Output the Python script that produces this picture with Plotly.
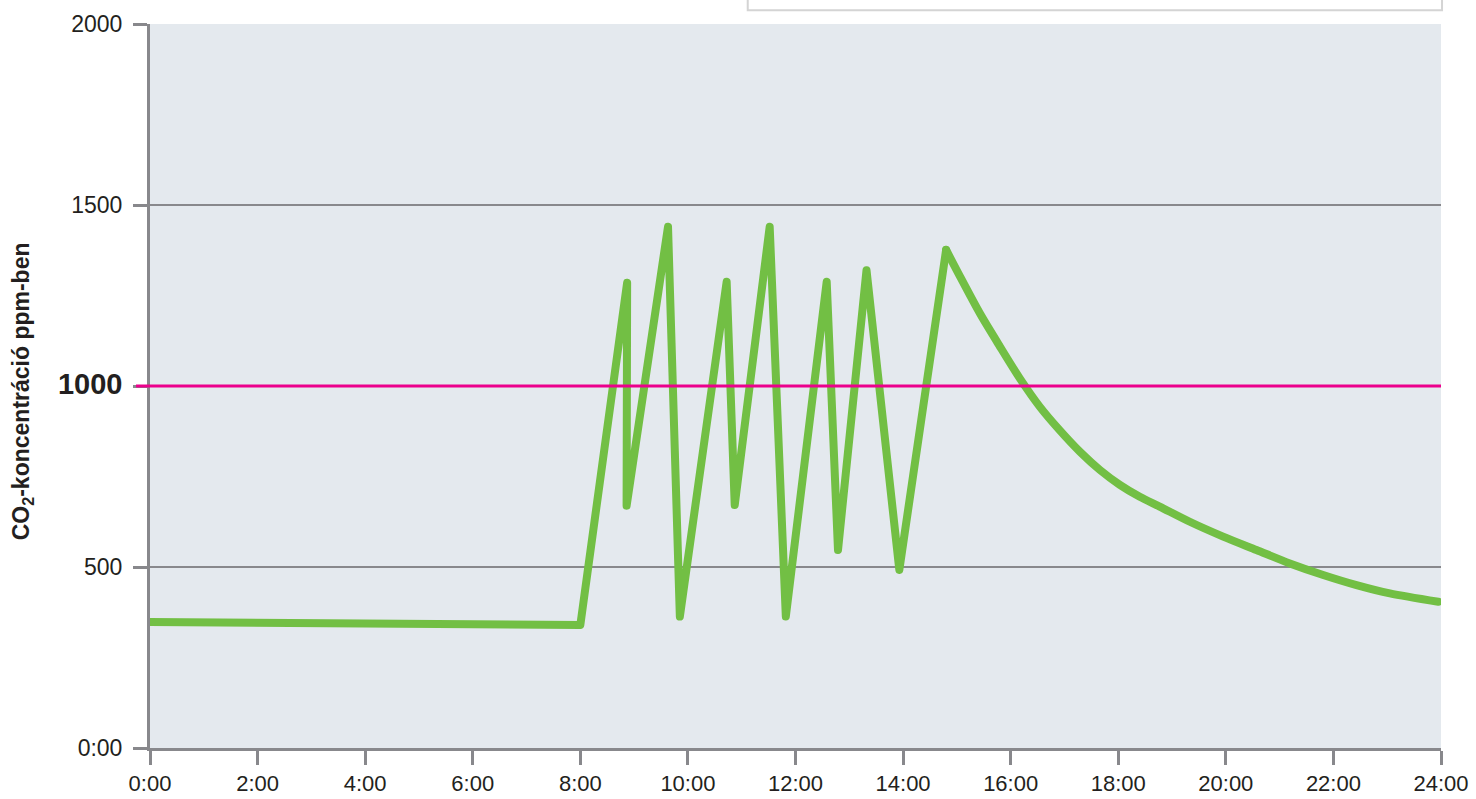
import plotly.graph_objects as go

# Morning to afternoon (ventilation zig-zag): time of day in hours, CO2 in ppm
hours_day = [0, 8.0, 8.87, 8.86, 9.63, 9.85, 10.72, 10.87, 11.52, 11.82, 12.58, 12.79,
             13.32, 13.93, 14.80]
co2_day = [348, 340, 1285, 669, 1440, 363, 1288, 671, 1440, 363, 1288, 547,
           1320, 492, 1376]

# Evening decay after the last peak
hours_decay = [14.80, 15.06, 15.43, 15.80, 16.17, 16.54, 16.91, 17.29, 17.66, 18.03,
               18.40, 18.77, 19.33, 19.95, 20.57, 21.19, 21.81, 22.43, 23.05, 23.95]
co2_decay = [1376, 1302, 1200, 1109, 1021, 943, 878, 818, 768, 727,
             694, 667, 625, 584, 547, 510, 478, 450, 427, 404]

threshold = 1000
x_tickvals = list(range(0, 25, 2))
x_ticktext = [f"{h}:00" for h in x_tickvals]
y_tickvals = [0, 500, 1000, 1500, 2000]
y_ticktext = ["0:00", "500", "<b><span style='font-size:29px'>1000</span></b>", "1500", "2000"]
y_title = "CO<sub>2</sub>-koncentráció ppm-ben"

GRAY = "#88888c"
GREEN = "#72bf44"
FONT = "Liberation Sans, Arial, sans-serif"

fig = go.Figure()
fig.add_trace(go.Scatter(
    x=hours_day, y=co2_day, mode="lines",
    line=dict(color=GREEN, width=8, shape="linear"),
    hoverinfo="skip", showlegend=False,
))
fig.add_trace(go.Scatter(
    x=hours_decay, y=co2_decay, mode="lines",
    line=dict(color=GREEN, width=8, shape="spline", smoothing=0.8),
    hoverinfo="skip", showlegend=False,
))

fig.update_layout(
    width=1476, height=799,
    margin=dict(l=150, r=35, t=24, b=51, autoexpand=False),
    paper_bgcolor="white",
    plot_bgcolor="#e4e9ee",
    font=dict(family=FONT, color="#231f20", size=22),
    showlegend=False,
    xaxis=dict(
        range=[0, 24], tickvals=x_tickvals, ticktext=x_ticktext,
        showgrid=False, zeroline=False, automargin=False,
        showline=True, linecolor=GRAY, linewidth=3,
        ticks="outside", ticklen=14, tickwidth=3, tickcolor=GRAY,
        tickfont=dict(size=22), ticklabeloverflow="allow", fixedrange=True,
    ),
    yaxis=dict(
        range=[0, 2000], tickvals=y_tickvals, ticktext=y_ticktext,
        showgrid=True, gridcolor=GRAY, gridwidth=2, zeroline=False, automargin=False,
        showline=True, linecolor=GRAY, linewidth=3,
        ticks="outside", ticklen=14, tickwidth=3, tickcolor=GRAY,
        tickfont=dict(size=23), ticklabelstandoff=6, ticklabeloverflow="allow",
        fixedrange=True,
    ),
    shapes=[
        dict(type="line", xref="paper", yref="y", x0=-14/1291, x1=1, y0=threshold, y1=threshold,
             line=dict(color="#ec008c", width=3), layer="above"),
        dict(type="rect", xref="paper", yref="paper", x0=0.463, x1=1.0008, y0=1.019, y1=1.2,
             line=dict(color="#d4d4d4", width=2), fillcolor="white", layer="above"),
    ],
    annotations=[
        dict(text=f"<b>{y_title}</b>", xref="paper", yref="paper",
             x=-0.099, y=0.493, textangle=-90, showarrow=False,
             font=dict(size=23, family=FONT, color="#231f20"),
             xanchor="center", yanchor="middle"),
    ],
)

post = (
    "document.body.style.margin='0';"
    "document.querySelectorAll('.scatterlayer path.js-line').forEach(function(p){"
    "p.style.strokeLinejoin='round';p.style.strokeLinecap='round';});"
)
fig.write_html("out.html", config={"displayModeBar": False}, post_script=post)
